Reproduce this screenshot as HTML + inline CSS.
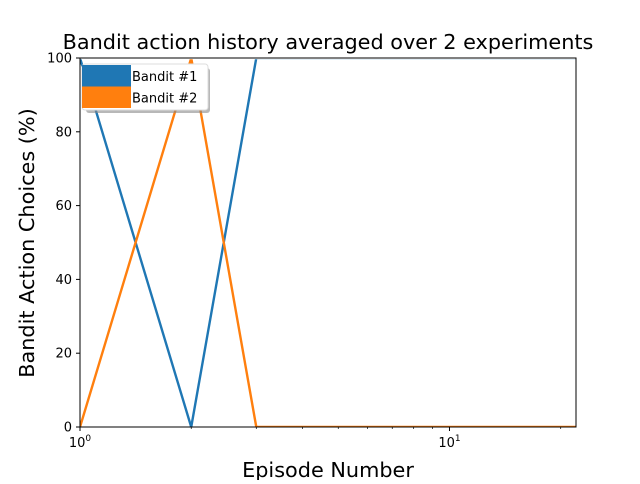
<!DOCTYPE html>
<html><head><meta charset="utf-8"><style>
body{margin:0;background:#fff;font-family:"DejaVu Sans","Liberation Sans",sans-serif}
svg text{font-family:"DejaVu Sans","Liberation Sans",sans-serif}
</style></head><body>
<svg width="640" height="480" viewBox="0 0 640 480" xmlns="http://www.w3.org/2000/svg">
<rect width="640" height="480" fill="#fff"/>
<text x="328" y="49" font-size="20.8" text-anchor="middle">Bandit action history averaged over 2 experiments</text>
<g id="plot"></g>
<text x="328" y="477" font-size="20.8" text-anchor="middle">Episode Number</text>
<text transform="translate(34,243) rotate(-90)" font-size="20.8" text-anchor="middle">Bandit Action Choices (%)</text>
</svg>
<script>
const episodes=[1,2,3,4,5,6,7,8,9,10,11,12,13,14,15,16,17,18,19,20,21,22];
const bandit1=[100,0,100,100,100,100,100,100,100,100,100,100,100,100,100,100,100,100,100,100,100,100];
const bandit2=[0,100,0,0,0,0,0,0,0,0,0,0,0,0,0,0,0,0,0,0,0,0];
const yTicks=[0,20,40,60,80,100];
const seriesNames=["Bandit #1","Bandit #2"];
const colors=["#1f77b4","#ff7f0e"];
const L=80,R=576,T=58,B=427;
const xmin=1,xmax=22,ymin=0,ymax=100;
const NS="http://www.w3.org/2000/svg";
const sx=v=>L+(Math.log10(v)-Math.log10(xmin))/(Math.log10(xmax)-Math.log10(xmin))*(R-L);
const sy=v=>B-(v-ymin)/(ymax-ymin)*(B-T);
const g=document.getElementById('plot');
function mk(tag,attrs,parent){const e=document.createElementNS(NS,tag);for(const k in attrs)e.setAttribute(k,attrs[k]);(parent||g).appendChild(e);return e;}
const defs=mk('defs',{});
const cp=mk('clipPath',{id:'clip'},defs);mk('rect',{x:L,y:T+1.3,width:R-L,height:B-T-1.3},cp);
[bandit1,bandit2].forEach((s,i)=>{
 const p=mk('polyline',{points:s.map((v,j)=>sx(episodes[j])+','+sy(v)).join(' '),fill:'none',stroke:colors[i],'stroke-width':2.4,'clip-path':'url(#clip)'});
 
 
});
yTicks.forEach(t=>{
 const y=sy(t);
 mk('line',{x1:L-4,x2:L,y1:y,y2:y,stroke:'#000','stroke-width':1});
 const tx=mk('text',{x:L-8,y:y+4.5,'font-size':13,'text-anchor':'end'});tx.textContent=t;
 
 
});
for(let d=1;d<=20;d++){
 const dec=Math.pow(10,Math.floor(Math.log10(d)));
 if(d%dec!==0&&d>10)continue;
 if(d<xmin||d>xmax)continue;
 const x=sx(d),major=(d===1||d===10);
 mk('line',{x1:x,x2:x,y1:B,y2:B+(major?4:2),stroke:'#000','stroke-width':major?1:0.7});
}
[[1,'0'],[10,'1']].forEach(([v,e])=>{
 const tx=mk('text',{x:sx(v),y:B+20,'font-size':13,'text-anchor':'middle'});
 
 
 const t1=mk('tspan',{},tx);t1.textContent='10';
 const t2=mk('tspan',{dy:-6,'font-size':9},tx);t2.textContent=e;
});
mk('rect',{x:L,y:T,width:R-L,height:B-T,fill:'none',stroke:'#000','stroke-width':1});
const lg=mk('g',{});


mk('rect',{x:86,y:68,width:124,height:45,rx:3,fill:'#888',opacity:0.6},lg);
mk('rect',{x:82,y:64,width:126,height:46,rx:3,fill:'#fff',stroke:'#ddd'},lg);
seriesNames.forEach((n,i)=>{
 const y=65+i*21.5;
 const r=mk('rect',{x:82,y:y,width:49,height:21.5,fill:colors[i]},lg);
 
 
 const t=mk('text',{x:132,y:y+16,'font-size':13},lg);t.textContent=n;
 
 
});
</script>
</body></html>
